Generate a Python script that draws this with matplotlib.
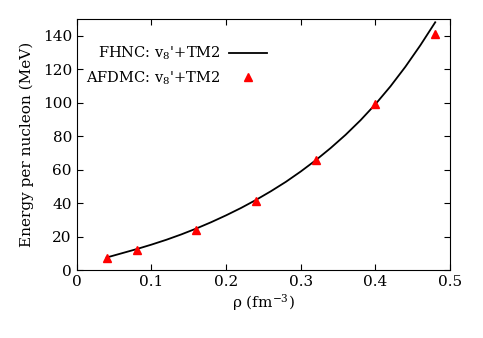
import matplotlib.pyplot as plt

# FHNC curve
rho_line = [0.04, 0.06, 0.08, 0.10, 0.12, 0.14, 0.16, 0.18, 0.20, 0.22, 0.24, 0.26,
            0.28, 0.30, 0.32, 0.34, 0.36, 0.38, 0.40, 0.42, 0.44, 0.46, 0.48]
e_line = [7.5, 10, 12.5, 15.2, 18.1, 21.3, 24.8, 28.6, 32.7, 37.1, 41.9, 47.1,
          52.7, 58.9, 65.6, 72.9, 80.8, 89.5, 99.1, 109.7, 121.4, 134.2, 148]

# AFDMC points
rho_pts = [0.04, 0.08, 0.16, 0.24, 0.32, 0.40, 0.48]
e_pts = [7, 12, 24, 41, 66, 99, 141]

plt.rcParams['font.family'] = ['DejaVu Serif']
plt.rcParams['mathtext.fontset'] = 'custom'
plt.rcParams['mathtext.rm'] = 'DejaVu Serif'
plt.rcParams['mathtext.it'] = 'DejaVu Serif:italic'

fig = plt.figure(figsize=(4.83, 3.38), dpi=100)
ax = fig.add_axes([0.159, 0.201, 0.773, 0.743])

ax.plot(rho_line, e_line, color='black', lw=1.3, label="FHNC: v$_\\mathrm{8}$'+TM2")
ax.plot(rho_pts, e_pts, '^', color='red', ms=6, mec='red', label="AFDMC: v$_\\mathrm{8}$'+TM2")

ax.set_xlim(0, 0.5)
ax.set_ylim(0, 150)
ax.set_xticks([0, 0.1, 0.2, 0.3, 0.4, 0.5])
ax.set_xticklabels(['0', '0.1', '0.2', '0.3', '0.4', '0.5'])
ax.set_yticks(range(0, 141, 20))
ax.tick_params(direction='in', top=True, right=True, labelsize=11, length=4)
ax.set_xlabel('ρ (fm$^{\\mathrm{-3}}$)', fontsize=11, labelpad=2)
ax.set_ylabel('Energy per nucleon (MeV)', fontsize=11, labelpad=6)

ax.legend(loc='upper left', frameon=False, markerfirst=False, fontsize=10.5,
          handlelength=2.6, handletextpad=0.6, bbox_to_anchor=(-0.01, 0.95),
          alignment='right')

plt.savefig("out.png")
